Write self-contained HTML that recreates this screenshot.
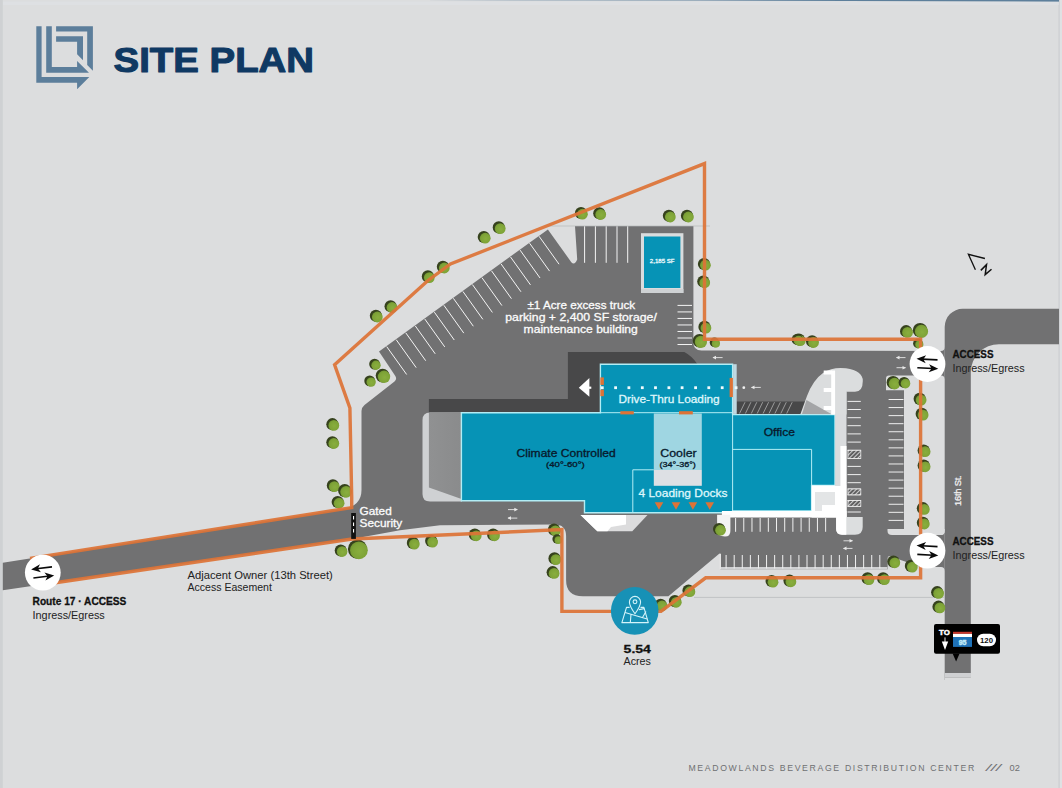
<!DOCTYPE html>
<html><head><meta charset="utf-8"><title>Site Plan</title>
<style>html,body{margin:0;padding:0;background:#dcddde;}body{width:1062px;height:788px;overflow:hidden;font-family:"Liberation Sans",sans-serif;}svg{display:block;}</style>
</head><body>
<svg width="1062" height="788" viewBox="0 0 1062 788" font-family="'Liberation Sans', sans-serif">
<defs>
<radialGradient id="tg" cx="0.55" cy="0.55" r="0.6"><stop offset="0" stop-color="#89ae3e"/><stop offset="0.7" stop-color="#7ea337"/><stop offset="1" stop-color="#6f9330"/></radialGradient>
<linearGradient id="ramp" x1="0" x2="1" y1="0" y2="0"><stop offset="0" stop-color="#909192"/><stop offset="1" stop-color="#8a8b8c"/></linearGradient>
<pattern id="hatch" width="3" height="3" patternUnits="userSpaceOnUse" patternTransform="rotate(45)"><rect width="3" height="3" fill="#5a5a5b"/><rect width="1.1" height="3" fill="#cfcfcf"/></pattern>
</defs>
<rect x="0" y="0" width="1062" height="788" fill="#dcddde" />
<rect x="0" y="0" width="2.8" height="788" fill="#cfd1d3" />
<rect x="1059" y="0" width="3" height="788" fill="#dfe1e3" />
<rect x="1058.6" y="0" width="1" height="788" fill="#c9cbcd" />
<polygon points="420,0 1059,0 1059,1.7 700,0.6" fill="#5d7f9b" />
<rect x="3" y="1.7" width="1056" height="3.3" fill="#e0e3e6" opacity="0.6"/>
<path d="M944.7 680 L944.7 326.8 A18 18 0 0 1 962.7 308.8 L1059 308.8 L1059 344.2 L999 344.2 A28.2 28.2 0 0 0 970.8 372.4 L970.8 680 Z" fill="#717172"/>
<rect x="944.7" y="673" width="26.3" height="4.5" fill="#cfd0d2" />
<rect x="944.7" y="677.5" width="26.3" height="3.5" fill="#dcddde" />
<path d="M379 351.4 L547.9 229.4 L571.3 262.2 Q574.5 266 577.2 259.5 L575 226 L693.4 226 L693.4 342.5 Q693.4 350.4 701.5 350.4 L941 351 Q944.7 351 944.7 347 L944.7 379.5 Q944.7 375.4 941 375.4 L910 375.4 L910 390 L904 390 L904 529 L904 535.1 L941 535.1 Q944.7 535.1 944.7 531 L944.7 571 Q944.7 566.9 941 566.9 L921 566.9 L890.5 556.6 Q887.4 555.6 887.4 558.5 L887.4 569.3 L720 569.3 L720 553.7 L719.2 553.7 L668.4 596.3 L582.8 596.3 Q566.1 596.3 566.1 580 L566.1 536 Q566.1 524.5 554.5 524.5 L440 525.2 L400 530.2 L352 538.9 L2.8 590.3 L2.8 562.7 L343 509 Q361.5 506 361.5 490 L361.5 411 Q361.5 407.5 364.5 405 L394.5 381.5 Q397.5 379 395 375.5 Z" fill="#717172"/>
<line x1="694" y1="597.4" x2="945" y2="597.4" stroke="#b9bbbd" stroke-width="0.8" />
<line x1="545" y1="226" x2="710" y2="226" stroke="#b5b7b9" stroke-width="0.7" />
<path d="M428.9 399 L567.9 399 L567.9 352 L684.3 352 Q692 356 697.5 364.2 L600 364.2 L600 413 L428.9 413 Z" fill="#484849"/>
<path d="M736.5 401.4 L806 401.4 Q803 409 800.5 413.9 L736.5 413.9 Z" fill="#484849"/>
<line x1="739.5" y1="413.5" x2="745" y2="402.2" stroke="#bdbdbd" stroke-width="0.7" />
<line x1="745.4" y1="413.5" x2="750.9" y2="402.2" stroke="#bdbdbd" stroke-width="0.7" />
<line x1="751.3" y1="413.5" x2="756.8" y2="402.2" stroke="#bdbdbd" stroke-width="0.7" />
<line x1="757.2" y1="413.5" x2="762.7" y2="402.2" stroke="#bdbdbd" stroke-width="0.7" />
<line x1="763.1" y1="413.5" x2="768.6" y2="402.2" stroke="#bdbdbd" stroke-width="0.7" />
<line x1="769" y1="413.5" x2="774.5" y2="402.2" stroke="#bdbdbd" stroke-width="0.7" />
<line x1="774.9" y1="413.5" x2="780.4" y2="402.2" stroke="#bdbdbd" stroke-width="0.7" />
<line x1="780.8" y1="413.5" x2="786.3" y2="402.2" stroke="#bdbdbd" stroke-width="0.7" />
<line x1="786.7" y1="413.5" x2="792.2" y2="402.2" stroke="#bdbdbd" stroke-width="0.7" />
<line x1="386.7" y1="346.6" x2="406.66" y2="374.5" stroke="#f4f4f4" stroke-width="1" />
<line x1="396.22" y1="339.71" x2="416.18" y2="367.61" stroke="#f4f4f4" stroke-width="1" />
<line x1="405.75" y1="332.81" x2="425.71" y2="360.71" stroke="#f4f4f4" stroke-width="1" />
<line x1="415.27" y1="325.92" x2="435.23" y2="353.82" stroke="#f4f4f4" stroke-width="1" />
<line x1="424.8" y1="319.02" x2="444.76" y2="346.92" stroke="#f4f4f4" stroke-width="1" />
<line x1="434.32" y1="312.13" x2="454.28" y2="340.03" stroke="#f4f4f4" stroke-width="1" />
<line x1="443.85" y1="305.24" x2="463.81" y2="333.14" stroke="#f4f4f4" stroke-width="1" />
<line x1="453.38" y1="298.34" x2="473.33" y2="326.24" stroke="#f4f4f4" stroke-width="1" />
<line x1="462.9" y1="291.45" x2="482.86" y2="319.35" stroke="#f4f4f4" stroke-width="1" />
<line x1="472.43" y1="284.55" x2="492.38" y2="312.45" stroke="#f4f4f4" stroke-width="1" />
<line x1="481.95" y1="277.66" x2="501.91" y2="305.56" stroke="#f4f4f4" stroke-width="1" />
<line x1="491.48" y1="270.77" x2="511.44" y2="298.67" stroke="#f4f4f4" stroke-width="1" />
<line x1="501" y1="263.87" x2="520.96" y2="291.77" stroke="#f4f4f4" stroke-width="1" />
<line x1="510.52" y1="256.98" x2="530.49" y2="284.88" stroke="#f4f4f4" stroke-width="1" />
<line x1="520.05" y1="250.08" x2="540.01" y2="277.98" stroke="#f4f4f4" stroke-width="1" />
<line x1="529.58" y1="243.19" x2="549.54" y2="271.09" stroke="#f4f4f4" stroke-width="1" />
<line x1="539.1" y1="236.3" x2="559.06" y2="264.2" stroke="#f4f4f4" stroke-width="1" />
<line x1="584.6" y1="226.3" x2="584.6" y2="262.8" stroke="#f4f4f4" stroke-width="1" />
<line x1="595.4" y1="226.3" x2="595.4" y2="262.8" stroke="#f4f4f4" stroke-width="1" />
<line x1="606.2" y1="226.3" x2="606.2" y2="262.8" stroke="#f4f4f4" stroke-width="1" />
<line x1="617" y1="226.3" x2="617" y2="262.8" stroke="#f4f4f4" stroke-width="1" />
<line x1="627.7" y1="226.3" x2="627.7" y2="262.8" stroke="#f4f4f4" stroke-width="1" />
<line x1="677.5" y1="305.4" x2="692" y2="305.4" stroke="#f4f4f4" stroke-width="1" />
<line x1="677.5" y1="311.92" x2="692" y2="311.92" stroke="#f4f4f4" stroke-width="1" />
<line x1="677.5" y1="318.44" x2="692" y2="318.44" stroke="#f4f4f4" stroke-width="1" />
<line x1="677.5" y1="324.96" x2="692" y2="324.96" stroke="#f4f4f4" stroke-width="1" />
<line x1="677.5" y1="331.48" x2="692" y2="331.48" stroke="#f4f4f4" stroke-width="1" />
<line x1="677.5" y1="338" x2="692" y2="338" stroke="#f4f4f4" stroke-width="1" />
<line x1="677.5" y1="344.52" x2="692" y2="344.52" stroke="#f4f4f4" stroke-width="1" />
<rect x="641" y="233.2" width="42.4" height="59.8" fill="#d9dcde" />
<rect x="641" y="289" width="42.4" height="4" fill="#cfd2d4" />
<rect x="644" y="236.5" width="36.4" height="51.5" fill="#0693b6" />
<path d="M430 412.4 L462 412.4 L462 501.6 L430 501.6 Q422.5 501.6 422.5 494 L422.5 420 Q422.5 412.4 430 412.4 Z" fill="#cfd1d3"/>
<polygon points="428.9,413 461.5,413 461.5,499 428.9,487.5" fill="url(#ramp)" />
<polygon points="461.4,412.7 600.4,412.7 600.4,364.2 732.6,364.2 732.6,414.6 835,414.6 835,485.5 811.6,485.5 811.6,511 732.6,511 732.6,512.8 584.5,512.8 584.5,500.8 461.4,500.8" fill="#0693b6" stroke="#b2edf5" stroke-width="1.4"/>
<rect x="733.1" y="364.2" width="3.6" height="49.7" fill="#bfd9e2" />
<rect x="653.8" y="413.5" width="48" height="56.5" fill="#9fd6e2" />
<rect x="653.8" y="470" width="48" height="15.8" fill="#dde0e4" />
<path d="M653.8 469.8 L632.8 469.8 L632.8 512.5 M732.6 413 L732.6 512.5 M732.6 449.4 L811.6 449.4 L811.6 485.5 M600.4 412.7 L732.6 412.7" fill="none" stroke="#b2edf5" stroke-width="1"/>
<rect x="600.3" y="377.4" width="3.6" height="7.5" fill="#dd7337" />
<rect x="600.3" y="389.6" width="3.6" height="6.6" fill="#dd7337" />
<rect x="729.6" y="377.9" width="3.3" height="19.2" fill="#dd7337" />
<rect x="620.3" y="411.2" width="13.5" height="3.2" fill="#dd7337" />
<rect x="679" y="411.2" width="13.8" height="3.2" fill="#dd7337" />
<rect x="600.9" y="386.3" width="2.8" height="2.8" fill="#f2fbfd" />
<rect x="614.2" y="386.3" width="2.8" height="2.8" fill="#f2fbfd" />
<rect x="627.5" y="386.3" width="2.8" height="2.8" fill="#f2fbfd" />
<rect x="640.9" y="386.3" width="2.8" height="2.8" fill="#f2fbfd" />
<rect x="654.1" y="386.3" width="2.8" height="2.8" fill="#f2fbfd" />
<rect x="667.5" y="386.3" width="2.8" height="2.8" fill="#f2fbfd" />
<rect x="680.7" y="386.3" width="2.8" height="2.8" fill="#f2fbfd" />
<rect x="694.2" y="386.3" width="2.8" height="2.8" fill="#f2fbfd" />
<rect x="707.4" y="386.3" width="2.8" height="2.8" fill="#f2fbfd" />
<rect x="720.8" y="386.3" width="2.8" height="2.8" fill="#f2fbfd" />
<rect x="734.7" y="386.3" width="2.8" height="2.8" fill="#f2fbfd" />
<circle cx="743.8" cy="387.7" r="1.4" fill="#f0f0f0"/>
<line x1="751.5" y1="387.4" x2="760.8" y2="387.4" stroke="#e8e8e8" stroke-width="0.9" />
<polygon points="751,387.4 754.5,385.6 754.5,389.2" fill="#e8e8e8" />
<polygon points="578.8,387.7 589.4,377.9 589.4,396.8" fill="#fff" />
<rect x="589" y="386.6" width="2.3" height="2.2" fill="#fff" />
<polygon points="654.7,502.3 663.3,502.3 659,509.8" fill="#dd7337" />
<polygon points="671.7,502.3 680.3,502.3 676,509.8" fill="#dd7337" />
<polygon points="688.6,502.3 697.2,502.3 692.9,509.8" fill="#dd7337" />
<polygon points="705.4,502.3 714,502.3 709.7,509.8" fill="#dd7337" />
<polygon points="580.5,515 647.5,515 632.3,531.2 597.3,531.2" fill="#dcdcdd" />
<polygon points="580.5,515 626,515 626,524.5 611,527 607.5,531.2 597.3,531.2" fill="#fff" />
<polygon points="721.9,511 846.5,511 846.5,517.6 721.9,517.6" fill="#fff" />
<polygon points="811.6,485.5 846.5,485.5 846.5,517.6 811.6,517.6" fill="#fff" />
<polygon points="815,492 835,492 835,505 822,505 822,511 815,511" fill="#e3e5e6" />
<rect x="835.1" y="391.8" width="11.4" height="94.2" fill="#dadcde" />
<rect x="840.4" y="446" width="6.1" height="71.6" fill="#fff" />
<path d="M800.5 413.9 Q804 404 807 396 Q813 380 823 373 Q833 366.5 846 368.3 Q863 371 862.8 381 Q862.8 391.8 855 391.8 L846.5 391.8 L846.5 414.6 Z" fill="#dbddde"/>
<polygon points="802,413.9 831.3,413.9 806.5,400" fill="#a4a5a7" />
<rect x="831.2" y="370.5" width="3.9" height="44.1" fill="#fff" />
<rect x="823.7" y="370.5" width="8.3" height="4" fill="#fff" />
<rect x="823.7" y="388" width="8.3" height="4" fill="#fff" />
<rect x="823.7" y="406" width="8.3" height="4" fill="#fff" />
<path d="M717.1 514.7 L730.4 514.7 L730.4 531 Q730.4 536.6 725 536.6 Q717.1 536.6 717.1 529 Z" fill="#f4f4f4"/>
<path d="M836.1 517 L862.7 517 L862.7 527 Q862.7 534.7 855 534.7 L842 534.7 Q836.1 534.7 836.1 529 Z" fill="#dcdedf"/>
<path d="M836.1 517 L846.3 517 L846.3 534.7 L842 534.7 Q836.1 534.7 836.1 529 Z" fill="#fff"/>
<line x1="735.6" y1="518" x2="735.6" y2="531.8" stroke="#f1f1f1" stroke-width="1" />
<line x1="743.78" y1="518" x2="743.78" y2="531.8" stroke="#f1f1f1" stroke-width="1" />
<line x1="751.97" y1="518" x2="751.97" y2="531.8" stroke="#f1f1f1" stroke-width="1" />
<line x1="760.15" y1="518" x2="760.15" y2="531.8" stroke="#f1f1f1" stroke-width="1" />
<line x1="768.34" y1="518" x2="768.34" y2="531.8" stroke="#f1f1f1" stroke-width="1" />
<line x1="776.52" y1="518" x2="776.52" y2="531.8" stroke="#f1f1f1" stroke-width="1" />
<line x1="784.71" y1="518" x2="784.71" y2="531.8" stroke="#f1f1f1" stroke-width="1" />
<line x1="792.89" y1="518" x2="792.89" y2="531.8" stroke="#f1f1f1" stroke-width="1" />
<line x1="801.08" y1="518" x2="801.08" y2="531.8" stroke="#f1f1f1" stroke-width="1" />
<line x1="809.26" y1="518" x2="809.26" y2="531.8" stroke="#f1f1f1" stroke-width="1" />
<line x1="817.45" y1="518" x2="817.45" y2="531.8" stroke="#f1f1f1" stroke-width="1" />
<line x1="825.63" y1="518" x2="825.63" y2="531.8" stroke="#f1f1f1" stroke-width="1" />
<rect x="720" y="553.7" width="167.4" height="15.6" fill="#717172" />
<rect x="720" y="567" width="167.4" height="2.8" fill="#cfd0d2" />
<rect x="719.5" y="553.7" width="1.5" height="15.6" fill="#e4e4e4" />
<line x1="726.1" y1="555" x2="726.1" y2="568.5" stroke="#f1f1f1" stroke-width="1" />
<line x1="734.19" y1="555" x2="734.19" y2="568.5" stroke="#f1f1f1" stroke-width="1" />
<line x1="742.28" y1="555" x2="742.28" y2="568.5" stroke="#f1f1f1" stroke-width="1" />
<line x1="750.37" y1="555" x2="750.37" y2="568.5" stroke="#f1f1f1" stroke-width="1" />
<line x1="758.46" y1="555" x2="758.46" y2="568.5" stroke="#f1f1f1" stroke-width="1" />
<line x1="766.55" y1="555" x2="766.55" y2="568.5" stroke="#f1f1f1" stroke-width="1" />
<line x1="774.64" y1="555" x2="774.64" y2="568.5" stroke="#f1f1f1" stroke-width="1" />
<line x1="782.73" y1="555" x2="782.73" y2="568.5" stroke="#f1f1f1" stroke-width="1" />
<line x1="790.82" y1="555" x2="790.82" y2="568.5" stroke="#f1f1f1" stroke-width="1" />
<line x1="798.91" y1="555" x2="798.91" y2="568.5" stroke="#f1f1f1" stroke-width="1" />
<line x1="807" y1="555" x2="807" y2="568.5" stroke="#f1f1f1" stroke-width="1" />
<line x1="815.09" y1="555" x2="815.09" y2="568.5" stroke="#f1f1f1" stroke-width="1" />
<line x1="823.18" y1="555" x2="823.18" y2="568.5" stroke="#f1f1f1" stroke-width="1" />
<line x1="831.27" y1="555" x2="831.27" y2="568.5" stroke="#f1f1f1" stroke-width="1" />
<line x1="839.36" y1="555" x2="839.36" y2="568.5" stroke="#f1f1f1" stroke-width="1" />
<line x1="847.45" y1="555" x2="847.45" y2="568.5" stroke="#f1f1f1" stroke-width="1" />
<line x1="855.54" y1="555" x2="855.54" y2="568.5" stroke="#f1f1f1" stroke-width="1" />
<line x1="863.63" y1="555" x2="863.63" y2="568.5" stroke="#f1f1f1" stroke-width="1" />
<line x1="871.72" y1="555" x2="871.72" y2="568.5" stroke="#f1f1f1" stroke-width="1" />
<line x1="879.81" y1="555" x2="879.81" y2="568.5" stroke="#f1f1f1" stroke-width="1" />
<line x1="847.5" y1="401.4" x2="860.8" y2="401.4" stroke="#efefef" stroke-width="1" />
<line x1="847.5" y1="409.5" x2="860.8" y2="409.5" stroke="#efefef" stroke-width="1" />
<line x1="847.5" y1="417.7" x2="860.8" y2="417.7" stroke="#efefef" stroke-width="1" />
<line x1="847.5" y1="425.7" x2="860.8" y2="425.7" stroke="#efefef" stroke-width="1" />
<line x1="847.5" y1="433.9" x2="860.8" y2="433.9" stroke="#efefef" stroke-width="1" />
<line x1="847.5" y1="442.1" x2="860.8" y2="442.1" stroke="#efefef" stroke-width="1" />
<line x1="847.5" y1="450.3" x2="860.8" y2="450.3" stroke="#efefef" stroke-width="1" />
<line x1="847.5" y1="458.4" x2="860.8" y2="458.4" stroke="#efefef" stroke-width="1" />
<line x1="847.5" y1="466.4" x2="860.8" y2="466.4" stroke="#efefef" stroke-width="1" />
<line x1="847.5" y1="474.6" x2="860.8" y2="474.6" stroke="#efefef" stroke-width="1" />
<line x1="847.5" y1="482.7" x2="860.8" y2="482.7" stroke="#efefef" stroke-width="1" />
<line x1="847.5" y1="489" x2="860.8" y2="489" stroke="#efefef" stroke-width="1" />
<line x1="847.5" y1="494.8" x2="860.8" y2="494.8" stroke="#efefef" stroke-width="1" />
<line x1="847.5" y1="500.5" x2="860.8" y2="500.5" stroke="#efefef" stroke-width="1" />
<line x1="847.5" y1="506.3" x2="860.8" y2="506.3" stroke="#efefef" stroke-width="1" />
<line x1="847.5" y1="512" x2="860.8" y2="512" stroke="#efefef" stroke-width="1" />
<rect x="848" y="450.3" width="12.8" height="8.1" fill="url(#hatch)" stroke="#efefef" stroke-width="0.8"/>
<rect x="848" y="489" width="12.8" height="5.8" fill="url(#hatch)" stroke="#efefef" stroke-width="0.8"/>
<rect x="848" y="500.5" width="12.8" height="5.8" fill="url(#hatch)" stroke="#efefef" stroke-width="0.8"/>
<line x1="888.6" y1="399.5" x2="903.5" y2="399.5" stroke="#efefef" stroke-width="1" />
<line x1="888.6" y1="407.56" x2="903.5" y2="407.56" stroke="#efefef" stroke-width="1" />
<line x1="888.6" y1="415.62" x2="903.5" y2="415.62" stroke="#efefef" stroke-width="1" />
<line x1="888.6" y1="423.68" x2="903.5" y2="423.68" stroke="#efefef" stroke-width="1" />
<line x1="888.6" y1="431.74" x2="903.5" y2="431.74" stroke="#efefef" stroke-width="1" />
<line x1="888.6" y1="439.8" x2="903.5" y2="439.8" stroke="#efefef" stroke-width="1" />
<line x1="888.6" y1="447.86" x2="903.5" y2="447.86" stroke="#efefef" stroke-width="1" />
<line x1="888.6" y1="455.92" x2="903.5" y2="455.92" stroke="#efefef" stroke-width="1" />
<line x1="888.6" y1="463.98" x2="903.5" y2="463.98" stroke="#efefef" stroke-width="1" />
<line x1="888.6" y1="472.04" x2="903.5" y2="472.04" stroke="#efefef" stroke-width="1" />
<line x1="888.6" y1="480.1" x2="903.5" y2="480.1" stroke="#efefef" stroke-width="1" />
<line x1="888.6" y1="488.16" x2="903.5" y2="488.16" stroke="#efefef" stroke-width="1" />
<line x1="888.6" y1="496.22" x2="903.5" y2="496.22" stroke="#efefef" stroke-width="1" />
<line x1="888.6" y1="504.28" x2="903.5" y2="504.28" stroke="#efefef" stroke-width="1" />
<line x1="888.6" y1="512.34" x2="903.5" y2="512.34" stroke="#efefef" stroke-width="1" />
<line x1="888.6" y1="520.4" x2="903.5" y2="520.4" stroke="#efefef" stroke-width="1" />
<path d="M887.5 529 L944.7 529 L944.7 531 Q944.7 535.1 941 535.1 L892 535.1 Q887.5 535.1 887.5 531 Z" fill="#dcddde"/>
<path d="M889 375.4 L910 375.4 L910 390.3 L886 390.3 L886 378.4 Q886 375.4 889 375.4 Z" fill="#dcddde"/>
<line x1="713" y1="357.6" x2="722.6" y2="357.6" stroke="#e8e8e8" stroke-width="0.9" />
<polygon points="712.5,357.6 716,355.8 716,359.4" fill="#e8e8e8" />
<line x1="896.5" y1="357.6" x2="905.5" y2="357.6" stroke="#e8e8e8" stroke-width="0.9" />
<polygon points="896,357.6 899.5,355.8 899.5,359.4" fill="#e8e8e8" />
<line x1="896.5" y1="367.7" x2="905.5" y2="367.7" stroke="#e8e8e8" stroke-width="0.9" />
<polygon points="906,367.7 902.5,365.9 902.5,369.5" fill="#e8e8e8" />
<line x1="843.5" y1="540.8" x2="852.5" y2="540.8" stroke="#e8e8e8" stroke-width="0.9" />
<polygon points="853,540.8 849.5,539 849.5,542.6" fill="#e8e8e8" />
<line x1="843.5" y1="548.4" x2="852.5" y2="548.4" stroke="#e8e8e8" stroke-width="0.9" />
<polygon points="843,548.4 846.5,546.6 846.5,550.2" fill="#e8e8e8" />
<line x1="508" y1="509.6" x2="517.3" y2="509.6" stroke="#e8e8e8" stroke-width="0.9" />
<polygon points="517.8,509.6 514.3,507.8 514.3,511.4" fill="#e8e8e8" />
<line x1="508" y1="518.1" x2="517.3" y2="518.1" stroke="#e8e8e8" stroke-width="0.9" />
<polygon points="507.5,518.1 511,516.3 511,519.9" fill="#e8e8e8" />
<circle cx="375.9" cy="315.8" r="6.1" fill="#36421d"/>
<circle cx="377.3" cy="317" r="5.4" fill="url(#tg)"/>
<circle cx="390.6" cy="306.3" r="6.1" fill="#36421d"/>
<circle cx="392" cy="307.5" r="5.4" fill="url(#tg)"/>
<circle cx="427.9" cy="276.4" r="6.1" fill="#36421d"/>
<circle cx="429.3" cy="277.6" r="5.4" fill="url(#tg)"/>
<circle cx="442.9" cy="266.8" r="6.1" fill="#36421d"/>
<circle cx="444.3" cy="268" r="5.4" fill="url(#tg)"/>
<circle cx="483.8" cy="237" r="6.1" fill="#36421d"/>
<circle cx="485.2" cy="238.2" r="5.4" fill="url(#tg)"/>
<circle cx="498.8" cy="227.4" r="6.1" fill="#36421d"/>
<circle cx="500.2" cy="228.6" r="5.4" fill="url(#tg)"/>
<circle cx="581" cy="213" r="6.1" fill="#36421d"/>
<circle cx="582.4" cy="214.2" r="5.4" fill="url(#tg)"/>
<circle cx="599.3" cy="213.3" r="6.1" fill="#36421d"/>
<circle cx="600.7" cy="214.5" r="5.4" fill="url(#tg)"/>
<circle cx="668.9" cy="215.8" r="6.1" fill="#36421d"/>
<circle cx="670.3" cy="217" r="5.4" fill="url(#tg)"/>
<circle cx="687" cy="215.8" r="6.1" fill="#36421d"/>
<circle cx="688.4" cy="217" r="5.4" fill="url(#tg)"/>
<circle cx="704" cy="264" r="6.1" fill="#36421d"/>
<circle cx="705.4" cy="265.2" r="5.4" fill="url(#tg)"/>
<circle cx="703.3" cy="281.5" r="6.1" fill="#36421d"/>
<circle cx="704.7" cy="282.7" r="5.4" fill="url(#tg)"/>
<circle cx="704.5" cy="326.9" r="6.1" fill="#36421d"/>
<circle cx="705.9" cy="328.1" r="5.4" fill="url(#tg)"/>
<circle cx="332.4" cy="424.2" r="6.1" fill="#36421d"/>
<circle cx="333.8" cy="425.4" r="5.4" fill="url(#tg)"/>
<circle cx="332.4" cy="442.3" r="6.1" fill="#36421d"/>
<circle cx="333.8" cy="443.5" r="5.4" fill="url(#tg)"/>
<circle cx="332.9" cy="485.4" r="6.1" fill="#36421d"/>
<circle cx="334.3" cy="486.6" r="5.4" fill="url(#tg)"/>
<circle cx="337.7" cy="502" r="6.1" fill="#36421d"/>
<circle cx="339.1" cy="503.2" r="5.4" fill="url(#tg)"/>
<circle cx="412.9" cy="542.9" r="6.1" fill="#36421d"/>
<circle cx="414.3" cy="544.1" r="5.4" fill="url(#tg)"/>
<circle cx="431.2" cy="540.9" r="6.1" fill="#36421d"/>
<circle cx="432.6" cy="542.1" r="5.4" fill="url(#tg)"/>
<circle cx="474.8" cy="534.6" r="6.1" fill="#36421d"/>
<circle cx="476.2" cy="535.8" r="5.4" fill="url(#tg)"/>
<circle cx="493.1" cy="534.6" r="6.1" fill="#36421d"/>
<circle cx="494.5" cy="535.8" r="5.4" fill="url(#tg)"/>
<circle cx="554" cy="529.6" r="6.1" fill="#36421d"/>
<circle cx="555.4" cy="530.8" r="5.4" fill="url(#tg)"/>
<circle cx="554.5" cy="558.4" r="6.1" fill="#36421d"/>
<circle cx="555.9" cy="559.6" r="5.4" fill="url(#tg)"/>
<circle cx="552.7" cy="572.2" r="6.1" fill="#36421d"/>
<circle cx="554.1" cy="573.4" r="5.4" fill="url(#tg)"/>
<circle cx="660.6" cy="604.8" r="6.1" fill="#36421d"/>
<circle cx="662" cy="606" r="5.4" fill="url(#tg)"/>
<circle cx="674.9" cy="601.1" r="6.1" fill="#36421d"/>
<circle cx="676.3" cy="602.3" r="5.4" fill="url(#tg)"/>
<circle cx="688.5" cy="590.5" r="6.1" fill="#36421d"/>
<circle cx="689.9" cy="591.7" r="5.4" fill="url(#tg)"/>
<circle cx="771.6" cy="581" r="6.1" fill="#36421d"/>
<circle cx="773" cy="582.2" r="5.4" fill="url(#tg)"/>
<circle cx="789.5" cy="580.6" r="6.1" fill="#36421d"/>
<circle cx="790.9" cy="581.8" r="5.4" fill="url(#tg)"/>
<circle cx="867.6" cy="578.4" r="6.1" fill="#36421d"/>
<circle cx="869" cy="579.6" r="5.4" fill="url(#tg)"/>
<circle cx="883.1" cy="578.4" r="6.1" fill="#36421d"/>
<circle cx="884.5" cy="579.6" r="5.4" fill="url(#tg)"/>
<circle cx="893.4" cy="561.6" r="6.1" fill="#36421d"/>
<circle cx="894.8" cy="562.8" r="5.4" fill="url(#tg)"/>
<circle cx="910.9" cy="565.9" r="6.1" fill="#36421d"/>
<circle cx="912.3" cy="567.1" r="5.4" fill="url(#tg)"/>
<circle cx="719.1" cy="529" r="6.1" fill="#36421d"/>
<circle cx="720.5" cy="530.2" r="5.4" fill="url(#tg)"/>
<circle cx="798.9" cy="339.5" r="6.1" fill="#36421d"/>
<circle cx="800.3" cy="340.7" r="5.4" fill="url(#tg)"/>
<circle cx="812.1" cy="341.3" r="6.1" fill="#36421d"/>
<circle cx="813.5" cy="342.5" r="5.4" fill="url(#tg)"/>
<circle cx="919.7" cy="398.9" r="6.1" fill="#36421d"/>
<circle cx="921.1" cy="400.1" r="5.4" fill="url(#tg)"/>
<circle cx="921.7" cy="413.9" r="6.1" fill="#36421d"/>
<circle cx="923.1" cy="415.1" r="5.4" fill="url(#tg)"/>
<circle cx="923.7" cy="450.5" r="6.1" fill="#36421d"/>
<circle cx="925.1" cy="451.7" r="5.4" fill="url(#tg)"/>
<circle cx="923.7" cy="465.6" r="6.1" fill="#36421d"/>
<circle cx="925.1" cy="466.8" r="5.4" fill="url(#tg)"/>
<circle cx="922.9" cy="508.2" r="6.1" fill="#36421d"/>
<circle cx="924.3" cy="509.4" r="5.4" fill="url(#tg)"/>
<circle cx="922.9" cy="522.8" r="6.1" fill="#36421d"/>
<circle cx="924.3" cy="524" r="5.4" fill="url(#tg)"/>
<circle cx="937.2" cy="592.2" r="6.1" fill="#36421d"/>
<circle cx="938.6" cy="593.4" r="5.4" fill="url(#tg)"/>
<circle cx="938.5" cy="606.7" r="6.1" fill="#36421d"/>
<circle cx="939.9" cy="607.9" r="5.4" fill="url(#tg)"/>
<circle cx="906.1" cy="331.2" r="6.1" fill="#36421d"/>
<circle cx="907.5" cy="332.4" r="5.4" fill="url(#tg)"/>
<circle cx="382.6" cy="375.6" r="6.9" fill="#36421d"/>
<circle cx="384" cy="376.8" r="6.2" fill="url(#tg)"/>
<circle cx="374.6" cy="364.1" r="5.4" fill="#36421d"/>
<circle cx="376" cy="365.3" r="4.7" fill="url(#tg)"/>
<circle cx="369.7" cy="380.9" r="5.4" fill="#36421d"/>
<circle cx="371.1" cy="382.1" r="4.7" fill="url(#tg)"/>
<circle cx="344.7" cy="490.6" r="6.6" fill="#36421d"/>
<circle cx="346.1" cy="491.8" r="5.9" fill="url(#tg)"/>
<circle cx="357.5" cy="549.1" r="9.6" fill="#36421d"/>
<circle cx="358.9" cy="550.3" r="8.9" fill="url(#tg)"/>
<circle cx="340.7" cy="550.4" r="6" fill="#36421d"/>
<circle cx="342.1" cy="551.6" r="5.3" fill="url(#tg)"/>
<circle cx="699.5" cy="340.7" r="6.8" fill="#36421d"/>
<circle cx="700.9" cy="341.9" r="6.1" fill="url(#tg)"/>
<circle cx="714.5" cy="342.4" r="4.8" fill="#36421d"/>
<circle cx="715.9" cy="343.6" r="4.1" fill="url(#tg)"/>
<circle cx="920.1" cy="330.2" r="7.3" fill="#36421d"/>
<circle cx="921.5" cy="331.4" r="6.6" fill="url(#tg)"/>
<circle cx="917.9" cy="343.4" r="4.8" fill="#36421d"/>
<circle cx="919.3" cy="344.6" r="4.1" fill="url(#tg)"/>
<circle cx="893.1" cy="382.4" r="6.5" fill="#36421d"/>
<circle cx="894.5" cy="383.6" r="5.8" fill="url(#tg)"/>
<circle cx="904.1" cy="382.4" r="5.5" fill="#36421d"/>
<circle cx="905.5" cy="383.6" r="4.8" fill="url(#tg)"/>
<circle cx="557" cy="538.9" r="4.6" fill="#36421d"/>
<circle cx="558.4" cy="540.1" r="3.9" fill="url(#tg)"/>
<circle cx="797.2" cy="339.4" r="5.6" fill="#36421d"/>
<circle cx="798.6" cy="340.6" r="4.9" fill="url(#tg)"/>
<path d="M30 558.4 L351.7 507.6 L351.7 497 L349.9 408 L334.6 364.7 L428 280.5 L450.5 264 L704.5 163.6 L704.5 339.2 L920.6 339.2 L920.6 577.8 L705.7 577.8 L661 611.4 L561.9 611.4 L561.9 529.6 L352 539 L45 584.3" fill="none" stroke="#dd7337" stroke-width="3.4" stroke-linejoin="miter" opacity="0.93"/>
<rect x="351.2" y="513" width="4.7" height="25.9" fill="#111" />
<rect x="353" y="516" width="1.1" height="3.5" fill="#fff" />
<rect x="353" y="522.5" width="1.1" height="3.5" fill="#fff" />
<rect x="353" y="529" width="1.1" height="3.5" fill="#fff" />
<circle cx="927.5" cy="364" r="17.9" fill="#fff"/>
<g transform="translate(927.5 364) rotate(2.8)" stroke="#0a0a0a" stroke-width="1.6" fill="#0a0a0a">
<line x1="-6" y1="-4.6" x2="9.8" y2="-4.6"/><polygon points="-11.2,-4.6 -1.8,-8.6 -4.4,-4.6 -1.8,-0.6" stroke="none"/>
<line x1="-10" y1="4.2" x2="6" y2="4.2"/><polygon points="11,4.2 1.6,0.2 4.2,4.2 1.6,8.2" stroke="none"/>
</g>
<circle cx="927.5" cy="550.7" r="17.9" fill="#fff"/>
<g transform="translate(927.5 550.7) rotate(2.8)" stroke="#0a0a0a" stroke-width="1.6" fill="#0a0a0a">
<line x1="-6" y1="-4.6" x2="9.8" y2="-4.6"/><polygon points="-11.2,-4.6 -1.8,-8.6 -4.4,-4.6 -1.8,-0.6" stroke="none"/>
<line x1="-10" y1="4.2" x2="6" y2="4.2"/><polygon points="11,4.2 1.6,0.2 4.2,4.2 1.6,8.2" stroke="none"/>
</g>
<circle cx="42.8" cy="572.6" r="17.9" fill="#fff"/>
<g transform="translate(42.8 572.6) rotate(-7)" stroke="#0a0a0a" stroke-width="1.6" fill="#0a0a0a">
<line x1="-6" y1="-4.6" x2="9.8" y2="-4.6"/><polygon points="-11.2,-4.6 -1.8,-8.6 -4.4,-4.6 -1.8,-0.6" stroke="none"/>
<line x1="-10" y1="4.2" x2="6" y2="4.2"/><polygon points="11,4.2 1.6,0.2 4.2,4.2 1.6,8.2" stroke="none"/>
</g>
<circle cx="634.7" cy="610.9" r="23.8" fill="#1791b6"/>
<g fill="none" stroke="#d4f4fa" stroke-width="1.1" stroke-linejoin="round">
<path d="M629.6 607.4 L626.5 607.4 L621.9 622.6 L648.3 622.6 L643.9 607.4 L640.5 607.4"/>
<path d="M635 613.8 Q629.4 606 629.4 602 A5.6 5.6 0 1 1 640.6 602 Q640.6 606 635 613.8 Z"/>
<circle cx="635" cy="601.8" r="1.9"/>
<path d="M625 612.5 L647.2 619 M631 614.4 L630.3 622.6 M642.5 617.6 L646 611.5 M639 609.6 L644.2 608.6"/>
</g>
<rect x="934" y="624" width="66" height="29.8" rx="2" fill="#000"/>
<polygon points="952.6,653.5 959.6,653.5 956.1,661.5" fill="#000" />
<text x="939" y="635" font-size="7.6" font-weight="bold" fill="#fff" textLength="10.8" lengthAdjust="spacingAndGlyphs" stroke="#fff" stroke-width="0.5">TO</text>
<line x1="945" y1="637.4" x2="945" y2="643" stroke="#fff" stroke-width="0.9" />
<polygon points="941.8,641.6 948.2,641.6 945,649.9" fill="#fff" />
<rect x="953" y="631.8" width="19" height="2.1" fill="#c8372d" />
<rect x="953" y="633.9" width="19" height="3.1" fill="#fff" />
<rect x="953" y="637" width="19" height="9.9" fill="#1f72b8" />
<text x="962.6" y="644.6" font-size="7" font-weight="bold" fill="#bfeaf7" text-anchor="middle" stroke="#bfeaf7" stroke-width="0.5">95</text>
<rect x="977" y="633.8" width="19" height="12.4" rx="6.2" fill="#fff"/>
<text x="986.5" y="642.9" font-size="7" font-weight="bold" fill="#111" text-anchor="middle" textLength="13" lengthAdjust="spacingAndGlyphs">120</text>
<path d="M984.9 258.5 L968.4 254.3 L975.4 269.8" fill="none" stroke="#111" stroke-width="1.3" stroke-linejoin="miter"/>
<path d="M980.8 270.4 L986.5 264.7 L985.2 274.6 L991.5 269.2" fill="none" stroke="#111" stroke-width="1.5" stroke-linejoin="miter"/>
<polygon points="36.3,26.2 41.6,26.2 41.6,77.1 89.3,77.1 77.1,89.3 77.1,82.8 36.3,82.8" fill="#5c7e9b" />
<polygon points="46.2,26.2 51.8,26.2 51.8,66.9 77.1,66.9 77.1,60.9 89,72.8 46.2,72.8" fill="#5c7e9b" />
<polygon points="56.1,26.2 92.9,26.2 92.9,70.7 87.2,64.9 87.2,31.6 56.1,31.6" fill="#5c7e9b" />
<polygon points="56.1,36.3 83,36.3 83,60.3 77.1,54.3 77.1,41.7 56.1,41.7" fill="#5c7e9b" />
<text x="113.6" y="71.7" font-size="35.4" font-weight="bold" fill="#0f3963" stroke="#0f3963" stroke-width="1.1" stroke-linejoin="round" textLength="200.4" lengthAdjust="spacingAndGlyphs">SITE PLAN</text>
<text x="527.4" y="309" font-size="11" fill="#fbfbfb" font-weight="normal" textLength="107.7" lengthAdjust="spacingAndGlyphs" stroke="#fbfbfb" stroke-width="0.3" >±1 Acre excess truck</text>
<text x="505.3" y="321" font-size="11" fill="#fbfbfb" font-weight="normal" textLength="151.5" lengthAdjust="spacingAndGlyphs" stroke="#fbfbfb" stroke-width="0.3" >parking + 2,400 SF storage/</text>
<text x="523.6" y="333" font-size="11" fill="#fbfbfb" font-weight="normal" textLength="114.2" lengthAdjust="spacingAndGlyphs" stroke="#fbfbfb" stroke-width="0.3" >maintenance building</text>
<text x="649.8" y="263" font-size="5.6" fill="#e8f8fb" font-weight="normal" textLength="24.8" lengthAdjust="spacingAndGlyphs" stroke="#e8f8fb" stroke-width="0.3" >2,185 SF</text>
<text x="618.4" y="403.2" font-size="11" fill="#dff6fb" font-weight="normal" textLength="101.3" lengthAdjust="spacingAndGlyphs" stroke="#dff6fb" stroke-width="0.3" >Drive-Thru Loading</text>
<text x="516.5" y="457.1" font-size="10.6" fill="#08192c" font-weight="normal" textLength="99.3" lengthAdjust="spacingAndGlyphs" stroke="#08192c" stroke-width="0.3" >Climate Controlled</text>
<text x="546.1" y="466.8" font-size="7.4" fill="#08192c" font-weight="normal" textLength="38.6" lengthAdjust="spacingAndGlyphs" stroke="#08192c" stroke-width="0.3" >(40°-60°)</text>
<text x="660.3" y="457.3" font-size="10.6" fill="#08192c" font-weight="normal" textLength="36.3" lengthAdjust="spacingAndGlyphs" stroke="#08192c" stroke-width="0.3" >Cooler</text>
<text x="659.5" y="467.4" font-size="7.4" fill="#08192c" font-weight="normal" textLength="36.4" lengthAdjust="spacingAndGlyphs" stroke="#08192c" stroke-width="0.3" >(34°-36°)</text>
<text x="763.7" y="435.6" font-size="10.6" fill="#08192c" font-weight="normal" textLength="31.4" lengthAdjust="spacingAndGlyphs" stroke="#08192c" stroke-width="0.3" >Office</text>
<text x="638.5" y="496.9" font-size="11" fill="#dff6fb" font-weight="normal" textLength="89" lengthAdjust="spacingAndGlyphs" stroke="#dff6fb" stroke-width="0.3" >4 Loading Docks</text>
<text x="359.6" y="515.1" font-size="10.6" fill="#fbfbfb" font-weight="normal" textLength="32.1" lengthAdjust="spacingAndGlyphs" stroke="#fbfbfb" stroke-width="0.3" >Gated</text>
<text x="359.6" y="527.2" font-size="10.6" fill="#fbfbfb" font-weight="normal" textLength="42.7" lengthAdjust="spacingAndGlyphs" stroke="#fbfbfb" stroke-width="0.3" >Security</text>
<text x="187.5" y="579.4" font-size="10.2" fill="#222" font-weight="normal" textLength="145.3" lengthAdjust="spacingAndGlyphs" >Adjacent Owner (13th Street)</text>
<text x="187.5" y="591.1" font-size="10.2" fill="#222" font-weight="normal" textLength="84.4" lengthAdjust="spacingAndGlyphs" >Access Easement</text>
<text x="32.6" y="605.2" font-size="10.4" fill="#111" font-weight="bold" textLength="93.8" lengthAdjust="spacingAndGlyphs" stroke="#111" stroke-width="0.3" >Route 17 · ACCESS</text>
<text x="32.6" y="619.1" font-size="10.2" fill="#222" font-weight="normal" textLength="72.2" lengthAdjust="spacingAndGlyphs" >Ingress/Egress</text>
<text x="952.5" y="357.9" font-size="10.2" fill="#111" font-weight="bold" textLength="41" lengthAdjust="spacingAndGlyphs" stroke="#111" stroke-width="0.3" >ACCESS</text>
<text x="952.5" y="371.9" font-size="10.2" fill="#222" font-weight="normal" textLength="72.1" lengthAdjust="spacingAndGlyphs" >Ingress/Egress</text>
<text x="952.5" y="545.2" font-size="10.2" fill="#111" font-weight="bold" textLength="41" lengthAdjust="spacingAndGlyphs" stroke="#111" stroke-width="0.3" >ACCESS</text>
<text x="952.5" y="559.2" font-size="10.2" fill="#222" font-weight="normal" textLength="72.1" lengthAdjust="spacingAndGlyphs" >Ingress/Egress</text>
<text x="623.6" y="652.5" font-size="11.6" fill="#111" font-weight="bold" textLength="27.3" lengthAdjust="spacingAndGlyphs" stroke="#111" stroke-width="0.3" >5.54</text>
<text x="623.6" y="664.9" font-size="10" fill="#222" font-weight="normal" textLength="27.3" lengthAdjust="spacingAndGlyphs" >Acres</text>
<text x="688.4" y="771.4" font-size="8.7" fill="#6f7072" font-weight="normal" textLength="285.8" lengthAdjust="spacing" >MEADOWLANDS BEVERAGE DISTRIBUTION CENTER</text>
<text x="986" y="771.4" font-size="8.7" fill="#6f7072" font-weight="normal" textLength="15" lengthAdjust="spacingAndGlyphs" font-style="italic">///</text>
<text x="1009.5" y="771.4" font-size="8.7" fill="#6f7072" font-weight="normal" textLength="10.3" lengthAdjust="spacingAndGlyphs" >02</text>
<text transform="translate(961.3 506) rotate(-90)" font-size="9.4" font-weight="normal" stroke="#f4f4f4" stroke-width="0.25" fill="#f4f4f4" textLength="30.7" lengthAdjust="spacing">16th St.</text>
</svg>
</body></html>
